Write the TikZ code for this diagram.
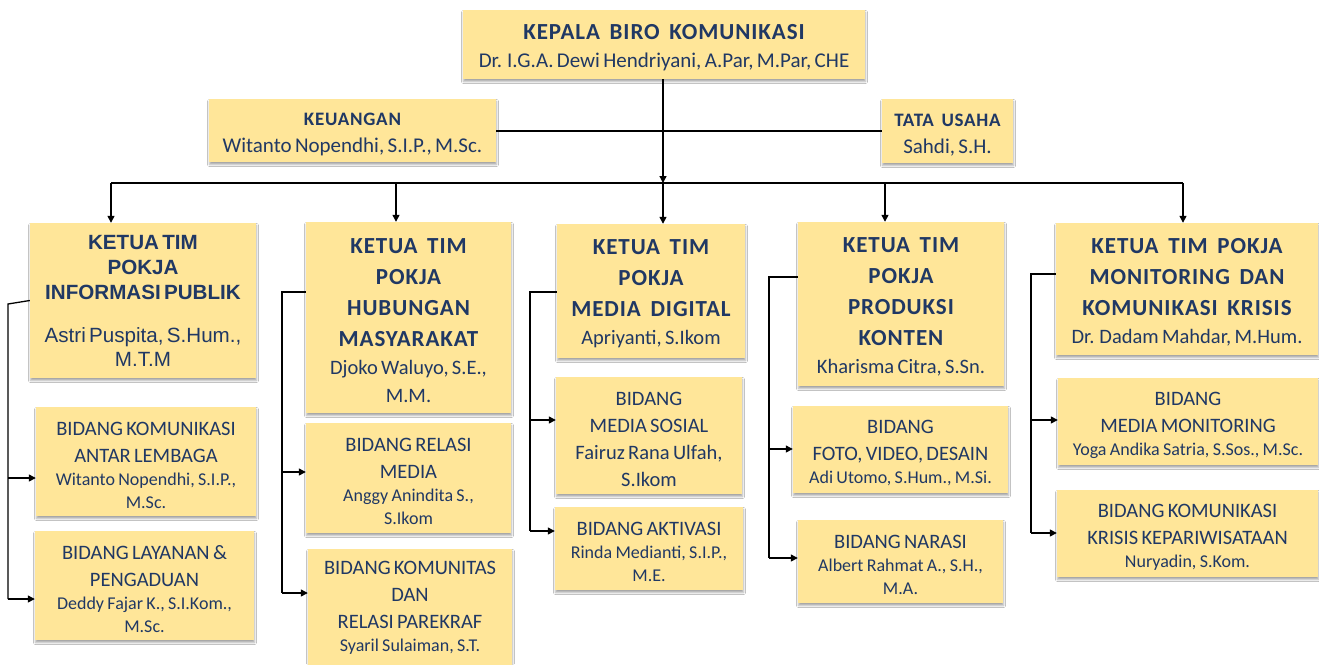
\documentclass[tikz,border=0pt]{standalone}
\usepackage{fontspec}
\setmainfont{Carlito}
\newfontfamily\headfont[LetterSpace=4]{Carlito}
\newfontfamily\arialfont{Liberation Sans}
\usepackage{xcolor}
\usepackage{tikz}
\usetikzlibrary{arrows.meta}
\usetikzlibrary{shadows.blur}

\definecolor{boxfill}{HTML}{FFE699}
\definecolor{navy}{HTML}{203864}

\newcommand{\ttlfont}{\headfont\bfseries\fontsize{23}{31}\selectfont\spaceskip=0.42em\relax}
\newcommand{\nmfont}{\fontsize{20.5}{28}\selectfont}
\newcommand{\subfont}{\fontsize{20.5}{27}\selectfont}
\newcommand{\subnmfont}{\fontsize{18}{23}\selectfont}

\tikzset{
  orgbox/.style={fill=boxfill, text=navy, align=center, inner xsep=3pt, inner ysep=0pt,
    execute at begin node={\rule{0pt}{21pt}},
    blur shadow={shadow xshift=0.5pt, shadow yshift=-2.5pt, shadow blur radius=2pt, shadow opacity=35}},
  link/.style={line width=1.3pt},
  busline/.style={line width=2pt},
  drop/.style={line width=1.3pt, -{Triangle[length=7pt,width=7pt]}}
}

\begin{document}
\begin{tikzpicture}[x=1pt,y=-1pt]
    \fill[white] (0,0) rectangle (1319,664);% page
    \useasboundingbox (0,0) rectangle (1319,664);

    % top level
    \node[orgbox, text width=396pt, minimum height=69pt] (kepala) at (664,44.5)
    {{\ttlfont KEPALA BIRO KOMUNIKASI\par}{\fontsize{21}{28}\selectfont Dr. I.G.A. Dewi Hendriyani, A.Par, M.Par, CHE\par}};
    \node[orgbox, text width=281pt, minimum height=63pt] (keu) at (352.5,130.5)
    {{\headfont\bfseries\fontsize{19}{27}\selectfont KEUANGAN\par}{\fontsize{21}{27}\selectfont Witanto Nopendhi, S.I.P., M.Sc.\par}};
    \node[orgbox, text width=125pt, minimum height=64pt] (tu) at (947.5,131)
    {{\headfont\bfseries\fontsize{19}{27}\selectfont\spaceskip=0.4em TATA USAHA\par}{\fontsize{21}{27}\selectfont Sahdi, S.H.\par}};

    % ketua tim
    \node[orgbox, text width=220pt, minimum height=155pt] (h1) at (143,300.5)
    {{\arialfont\bfseries\fontsize{20.6}{25}\selectfont KETUA TIM\\POKJA\\INFORMASI PUBLIK\par}\vspace{19pt}%
    {\arialfont\fontsize{20.6}{24}\selectfont Astri Puspita, S.Hum.,\\M.T.M\par}\vspace{7pt}};
    \node[orgbox, text width=199pt, minimum height=191pt] (h2) at (408.5,317.5)
    {{\ttlfont KETUA TIM\\POKJA\\HUBUNGAN\\MASYARAKAT\par}{\nmfont Djoko Waluyo, S.E.,\\M.M.\par}};
    \node[orgbox, text width=182pt, minimum height=134pt] (h3) at (651,291)
    {{\ttlfont KETUA TIM\\POKJA\\MEDIA DIGITAL\par}{\nmfont Apriyanti, S.Ikom\par}};
    \node[orgbox, text width=200pt, minimum height=164pt] (h4) at (901,304)
    {{\ttlfont KETUA TIM\\POKJA\\PRODUKSI\\KONTEN\par}{\nmfont Kharisma Citra, S.Sn.\par}};
    \node[orgbox, text width=256pt, minimum height=132pt] (h5) at (1187,289)
    {{\ttlfont KETUA TIM POKJA\\MONITORING DAN\\KOMUNIKASI KRISIS\par}{\nmfont Dr. Dadam Mahdar, M.Hum.\par}};

    % bidang
    \node[orgbox, text width=214pt, minimum height=109pt] (s11) at (146,461.5)
    {{\subfont BIDANG KOMUNIKASI\\ANTAR LEMBAGA\par}{\subnmfont Witanto Nopendhi, S.I.P.,\\M.Sc.\par}};
    \node[orgbox, text width=213pt, minimum height=109pt] (s12) at (144.5,585.5)
    {{\subfont BIDANG LAYANAN \&\\PENGADUAN\par}{\subnmfont Deddy Fajar K., S.I.Kom.,\\M.Sc.\par}};
    \node[orgbox, text width=199pt, minimum height=110pt] (s21) at (408.5,478)
    {{\subfont BIDANG RELASI\\MEDIA\par}{\subnmfont Anggy Anindita S.,\\S.Ikom\par}};
    \node[orgbox, text width=198pt, minimum height=119pt] (s22) at (410,608.5)
    {{\subfont BIDANG KOMUNITAS\\DAN\\RELASI PAREKRAF\par}{\subnmfont Syaril Sulaiman, S.T.\par}\vspace{9pt}};
    \node[orgbox, text width=180pt, minimum height=117pt] (s31) at (649,435.5)
    {{\subfont BIDANG\\MEDIA SOSIAL\\Fairuz Rana Ulfah,\\S.Ikom\par}};
    \node[orgbox, text width=182pt, minimum height=83pt] (s32) at (649,548.5)
    {{\subfont BIDANG AKTIVASI\par}{\subnmfont Rinda Medianti, S.I.P.,\\M.E.\par}};
    \node[orgbox, text width=209pt, minimum height=87pt] (s41) at (900.5,449.5)
    {{\subfont BIDANG\\FOTO, VIDEO, DESAIN\par}{\subnmfont Adi Utomo, S.Hum., M.Si.\par}};
    \node[orgbox, text width=199pt, minimum height=83pt] (s42) at (900.5,561.5)
    {{\subfont BIDANG NARASI\par}{\subnmfont Albert Rahmat A., S.H.,\\M.A.\par}};
    \node[orgbox, text width=254pt, minimum height=87pt] (s51) at (1188,421.5)
    {{\subfont BIDANG\\MEDIA MONITORING\par}{\subnmfont Yoga Andika Satria, S.Sos., M.Sc.\par}};
    \node[orgbox, text width=255pt, minimum height=87pt] (s52) at (1187.5,533.5)
    {{\subfont BIDANG KOMUNIKASI\\KRISIS KEPARIWISATAAN\par}{\subnmfont Nuryadin, S.Kom.\par}};

    % bus and drops
    \coordinate (b1) at (111,183);
    \coordinate (b2) at (396,183);
    \coordinate (b3) at (663,183);
    \coordinate (b4) at (885,183);
    \coordinate (b5) at (1183,183);
    \draw[busline] (keu.east) -- (keu.east -| tu.west);% staff line
    \draw[busline] (b1) -- (b5);% bus
    \draw[drop] (kepala.south -| b3) -- (b3);
    \foreach \i in {1,...,5}
        \draw[drop] (b\i) -- (b\i |- h\i.north);

    % brackets
    \draw[link] (h1.west) -- (8,304) -- (8,599);
    \draw[drop] (8,478) -- (s11.west |- 8,478);
    \draw[drop] (8,599) -- (s12.west |- 8,599);
    \draw[link] (h2.west |- 282,292) -- (282,292) -- (282,593);
    \draw[drop] (282,472) -- (s21.west |- 282,472);
    \draw[drop] (282,593) -- (s22.west |- 282,593);
    \draw[link] (h3.west |- 530,292) -- (530,292) -- (530,531);
    \draw[drop] (530,420) -- (s31.west |- 530,420);
    \draw[drop] (530,531) -- (s32.west |- 530,531);
    \draw[link] (h4.west |- 769,277) -- (769,277) -- (769,558);
    \draw[drop] (769,449) -- (s41.west |- 769,449);
    \draw[drop] (769,558) -- (s42.west |- 769,558);
    \draw[link] (h5.west |- 1031,274) -- (1031,274) -- (1031,533);
    \draw[drop] (1031,420) -- (s51.west |- 1031,420);
    \draw[drop] (1031,533) -- (s52.west |- 1031,533);
\end{tikzpicture}
\end{document}
